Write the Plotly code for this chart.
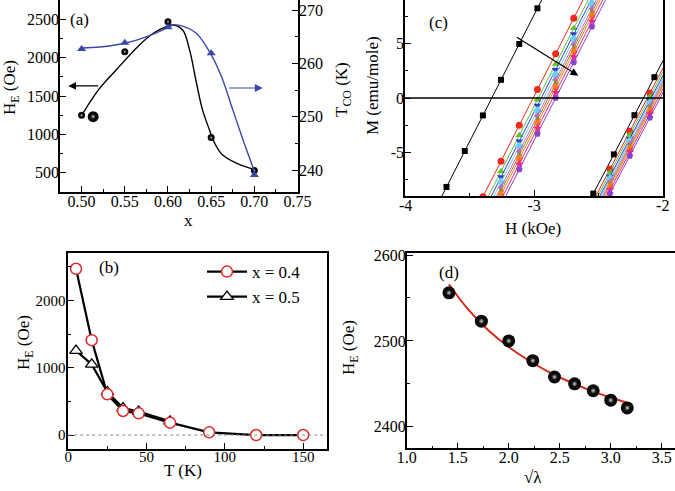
import plotly.graph_objects as go

FONT = "Liberation Serif, Times New Roman, serif"

# ---------------- Panel (a) ----------------
x_a = [0.50, 0.55, 0.60, 0.65, 0.70]
HE_a = [1250, 2080, 2470, 960, 530]
TCO_a = [262.7, 263.9, 266.8, 261.9, 239.1]
# guide curves
x_a_curveHE = [0.500, 0.521, 0.540, 0.567, 0.583, 0.598, 0.606, 0.617, 0.625, 0.633,
               0.640, 0.648, 0.654, 0.663, 0.679, 0.698, 0.700]
HE_a_curve = [1250, 1604, 1842, 2168, 2320, 2406, 2428, 2363, 2103, 1669,
              1321, 1060, 887, 735, 626, 548, 540]
x_a_curveT = [0.500, 0.521, 0.550, 0.575, 0.598, 0.606, 0.617, 0.633, 0.648, 0.662,
              0.675, 0.687, 0.698, 0.700]
TCO_a_curve = [262.9, 263.1, 263.8, 265.0, 266.6, 267.2, 267.0, 265.6, 262.2, 257.5,
               251.3, 245.6, 240.6, 239.5]
big_sphere_x = [0.5134]
big_sphere_y = [1233]

# ---------------- Panel (b) ----------------
T_b04 = [5, 15, 25, 35, 45, 65, 90, 120, 150]
HE_b04 = [2470, 1410, 605, 357, 322, 184, 40, 0, 0]
T_b05 = [5, 15, 25, 35, 45, 65]
HE_b05 = [1255, 1050, 640, 400, 350, 205]

# ---------------- Panel (c) ----------------
H_left_black = [-3.823, -3.682, -3.540, -3.399, -3.258, -3.116, -2.975, -2.833]
M_left_black = [-11.44, -8.17, -4.87, -1.60, 1.67, 4.96, 8.24, 11.53]
H_right_black = [-2.700, -2.540, -2.380, -2.220, -2.065, -1.910]
M_right_black = [-12.38, -8.78, -5.18, -1.58, 1.91, 5.40]

H_left_col = [-3.399, -3.258, -3.116, -2.975, -2.833, -2.692, -2.551, -2.409]
H_right_col = [-2.565, -2.410, -2.256, -2.100, -1.945]

M_left_red = [-9.07, -5.80, -2.51, 0.77, 4.06, 7.33, 10.60, 13.90]
M_left_green = [-10.00, -6.73, -3.43, -0.16, 3.13, 6.40, 9.67, 12.97]
M_left_blue = [-10.53, -7.26, -3.97, -0.70, 2.60, 5.87, 9.14, 12.44]
M_left_cyan = [-11.00, -7.73, -4.43, -1.16, 2.13, 5.41, 8.68, 11.97]
M_left_magenta = [-11.46, -8.19, -4.90, -1.62, 1.67, 4.94, 8.21, 11.51]
M_left_olive = [-11.81, -8.54, -5.24, -1.97, 1.32, 4.59, 7.86, 11.16]
M_left_orange = [-12.16, -8.89, -5.59, -2.32, 0.97, 4.25, 7.52, 10.81]
M_left_pink = [-12.62, -9.35, -6.06, -2.78, 0.51, 3.78, 7.05, 10.35]
M_left_purple = [-13.13, -9.86, -6.57, -3.29, 0.00, 3.27, 6.54, 9.84]

M_right_red = [-10.01, -6.53, -3.06, 0.45, 3.94]
M_right_green = [-10.35, -6.86, -3.40, 0.11, 3.60]
M_right_blue = [-10.69, -7.20, -3.74, -0.23, 3.26]
M_right_cyan = [-10.91, -7.43, -3.96, -0.45, 3.04]
M_right_magenta = [-11.18, -7.70, -4.23, -0.72, 2.77]
M_right_olive = [-11.41, -7.92, -4.46, -0.95, 2.54]
M_right_orange = [-11.63, -8.15, -4.68, -1.17, 2.32]
M_right_pink = [-11.93, -8.44, -4.97, -1.46, 2.03]
M_right_purple = [-12.26, -8.78, -5.31, -1.80, 1.69]

c_ticks_x = [-4, -3, -2]
c_ticktext_x = ["-4", "-3", "-2"]
c_ticks_y = [-5, 0, 5]
c_ticktext_y = ["-5", "0", "5"]

# ---------------- Panel (d) ----------------
sqrt_lam = [1.414, 1.732, 2.000, 2.236, 2.449, 2.646, 2.828, 3.000, 3.162]
HE_d = [2556, 2523, 2500, 2477, 2458, 2450, 2442, 2431, 2422]
sqrt_lam_fit = [1.414, 1.6, 1.8, 2.0, 2.2, 2.4, 2.6, 2.8, 3.0, 3.162]
HE_d_fit = [2566.0, 2537.0, 2512.5, 2492.9, 2476.9, 2463.5, 2452.2, 2442.5, 2434.1, 2428.0]

BLUE_A = "#3a47a8"

fig = go.Figure()


def spheres(x, y, xa, ya, size):
    fig.add_trace(go.Scatter(x=x, y=y, xaxis=xa, yaxis=ya, mode="markers", showlegend=False,
                             marker=dict(color="#0a0a0a", size=size, line=dict(width=0))))
    fig.add_trace(go.Scatter(x=x, y=y, xaxis=xa, yaxis=ya, mode="markers", showlegend=False,
                             marker=dict(color="#0a0a0a", size=size * 0.45, line=dict(width=0),
                                         gradient=dict(type="radial", color="#d0d0d0"))))


# ---- (a)
fig.add_trace(go.Scatter(x=x_a_curveHE, y=HE_a_curve, xaxis="x", yaxis="y", mode="lines",
                         line=dict(color="black", width=1.4, shape="spline"), showlegend=False))
fig.add_trace(go.Scatter(x=x_a_curveT, y=TCO_a_curve, xaxis="x", yaxis="y2", mode="lines",
                         line=dict(color=BLUE_A, width=1.4, shape="spline"), showlegend=False))
fig.add_trace(go.Scatter(x=x_a, y=TCO_a, xaxis="x", yaxis="y2", mode="markers", showlegend=False,
                         marker=dict(symbol="triangle-up", color=BLUE_A, size=8)))
spheres(x_a, HE_a, "x", "y", 7)
spheres(big_sphere_x, big_sphere_y, "x", "y", 11)

# ---- (c)
fig.add_trace(go.Scatter(x=H_left_black + [None] + H_right_black,
                         y=M_left_black + [None] + M_right_black,
                         xaxis="x2", yaxis="y3", mode="lines+markers", showlegend=False,
                         line=dict(color="black", width=1),
                         marker=dict(symbol="square", color="black", size=6)))
col_series = [
    (M_left_red, M_right_red, "#ee2a1e", "circle"),
    (M_left_green, M_right_green, "#63c132", "triangle-up"),
    (M_left_blue, M_right_blue, "#2f3fc4", "triangle-down"),
    (M_left_cyan, M_right_cyan, "#6ccff0", "diamond"),
    (M_left_magenta, M_right_magenta, "#c264c8", "triangle-left"),
    (M_left_olive, M_right_olive, "#9a8a3a", "triangle-right"),
    (M_left_orange, M_right_orange, "#ff7f10", "hexagon"),
    (M_left_pink, M_right_pink, "#ee2288", "star"),
    (M_left_purple, M_right_purple, "#8844cc", "pentagon"),
]
for ml, mr, col, sym in col_series:
    fig.add_trace(go.Scatter(x=H_left_col + [None] + H_right_col, y=ml + [None] + mr,
                             xaxis="x2", yaxis="y3", mode="lines+markers", showlegend=False,
                             line=dict(color=col, width=1),
                             marker=dict(symbol=sym, color=col, size=7)))

# ---- (b)
fig.add_trace(go.Scatter(x=T_b05, y=HE_b05, xaxis="x3", yaxis="y4", mode="lines+markers",
                         name="x = 0.5", legendrank=2,
                         line=dict(color="black", width=2.2),
                         marker=dict(symbol="triangle-up", color="white", size=11,
                                     line=dict(color="black", width=1.3))))
fig.add_trace(go.Scatter(x=T_b04, y=HE_b04, xaxis="x3", yaxis="y4", mode="lines+markers",
                         name="x = 0.4", legendrank=1,
                         line=dict(color="black", width=2.2),
                         marker=dict(symbol="circle", color="white", size=11,
                                     line=dict(color="#e0282a", width=1.5))))

# ---- (d)
fig.add_trace(go.Scatter(x=sqrt_lam_fit, y=HE_d_fit, xaxis="x4", yaxis="y5", mode="lines",
                         line=dict(color="#d42a1a", width=2, shape="spline"), showlegend=False))
spheres(sqrt_lam, HE_d, "x4", "y5", 13)


def ax(**kw):
    base = dict(showline=True, linecolor="black", linewidth=1.6, mirror=True,
                ticks="inside", ticklen=6, tickwidth=1.2, tickcolor="black",
                showgrid=False, zeroline=False, automargin=False,
                tickfont=dict(family=FONT, size=16, color="black"),
                minor=dict(ticks="inside", ticklen=3, tickcolor="black", tickwidth=1))
    base.update(kw)
    return base


W, H = 675, 491
px = lambda v: v / W
py = lambda v: 1 - v / H
XS, YS = -6, -4

fig.update_layout(
    template="none",
    width=W, height=H, margin=dict(l=0, r=0, t=0, b=0, pad=0, autoexpand=False),
    paper_bgcolor="white", plot_bgcolor="white",
    font=dict(family=FONT, color="black"),
    xaxis=ax(domain=[px(60), px(298)], range=[0.475, 0.7505], anchor="y", ticklabelstandoff=XS,
             dtick=0.05, tick0=0, tickformat=".2f", minor=dict(ticks="inside", ticklen=3, dtick=0.025, tickcolor="black")),
    yaxis=ax(domain=[py(192), 1], range=[250, 2754], anchor="x", dtick=500, tick0=0, ticklabelstandoff=YS,
             minor=dict(ticks="inside", ticklen=3, dtick=250, tickcolor="black")),
    yaxis2=ax(overlaying="y", side="right", anchor="x", range=[235.9, 271.9], dtick=10, tick0=0,
              ticklabelstandoff=YS,
              mirror=False, minor=dict(ticks="inside", ticklen=3, dtick=5, tickcolor="black")),
    xaxis2=ax(domain=[px(405), px(663)], range=[-4.005, -1.998], anchor="y3", ticklabelstandoff=XS,
              tickvals=c_ticks_x, ticktext=c_ticktext_x,
              minor=dict(ticks="inside", ticklen=3, dtick=0.5, tick0=0, tickcolor="black")),
    yaxis3=ax(domain=[py(196), 1], range=[-9, 9], anchor="x2", ticklabelstandoff=YS,
              tickvals=c_ticks_y, ticktext=c_ticktext_y,
              minor=dict(ticks="inside", ticklen=3, dtick=2.5, tick0=0, tickcolor="black")),
    xaxis3=ax(domain=[px(68.2), px(326.7)], range=[0, 165], anchor="y4", dtick=50, tick0=0,
              ticklabelstandoff=XS,
              tickfont=dict(family=FONT, size=15, color="black"),
              minor=dict(ticks="inside", ticklen=3, dtick=25, tickcolor="black")),
    yaxis4=ax(domain=[py(448.5), py(253.3)], range=[-200, 2700], anchor="x3", dtick=1000, tick0=0,
              ticklabelstandoff=-2,
              tickfont=dict(family=FONT, size=15, color="black"),
              minor=dict(ticks="inside", ticklen=3, dtick=500, tickcolor="black")),
    xaxis4=ax(domain=[px(406.7), 1], range=[1.0, 3.63], anchor="y5", dtick=0.5, tick0=0,
              ticklabelstandoff=XS,
              tickformat=".1f", minor=dict(ticks="inside", ticklen=3, dtick=0.25, tickcolor="black")),
    yaxis5=ax(domain=[py(448.3), py(253.3)], range=[2375, 2602], anchor="x4", dtick=100, tick0=0,
              ticklabelstandoff=YS,
              minor=dict(ticks="inside", ticklen=3, dtick=50, tickcolor="black")),
    legend=dict(x=px(202), y=py(254), xanchor="left", yanchor="top",
                bgcolor="rgba(0,0,0,0)", font=dict(family=FONT, size=17, color="black"),
                itemwidth=40, tracegroupgap=0, borderwidth=0),
)

shapes = [
    dict(type="line", xref="x3 domain", yref="y4", x0=0, x1=1, y0=0, y1=0,
         line=dict(color="#888888", width=1, dash="dot")),
    dict(type="line", xref="x2 domain", yref="y3", x0=0, x1=1, y0=0, y1=0,
         line=dict(color="black", width=1.5)),
]
fig.update_layout(shapes=shapes)

TF = dict(family=FONT, size=17, color="black")
LF = dict(family=FONT, size=17, color="black")
annos = [
    dict(text="H<sub>E</sub> (Oe)", x=px(11), y=py(88), textangle=-90, font=TF),
    dict(text="T<sub>CO</sub> (K)", x=px(343), y=py(90), textangle=-90, font=TF),
    dict(text="x", x=px(188), y=py(221), font=TF),
    dict(text="M (emu/mole)", x=px(372), y=py(86), textangle=-90, font=TF),
    dict(text="H (kOe)", x=px(533), y=py(229), font=TF),
    dict(text="H<sub>E</sub> (Oe)", x=px(25), y=py(343), textangle=-90, font=TF),
    dict(text="T (K)", x=px(183), y=py(470), font=TF),
    dict(text="H<sub>E</sub> (Oe)", x=px(350), y=py(348), textangle=-90, font=TF),
    dict(text="\u221a\u03bb", x=px(533), y=py(477), font=TF),
    dict(text="(a)", x=px(79), y=py(20), font=LF),
    dict(text="(b)", x=px(109), y=py(267), font=LF),
    dict(text="(c)", x=px(438), y=py(22), font=LF),
    dict(text="(d)", x=px(449), y=py(272), font=LF),
]
for a in annos:
    a.update(xref="paper", yref="paper", showarrow=False, xanchor="center", yanchor="middle")

arrows = [
    dict(x=0.4846, y=1634, ax=0.521, ay=1634, xref="x", yref="y", axref="x", ayref="y",
         arrowcolor="black"),
    dict(x=0.7096, y=255.4, ax=0.669, ay=255.4, xref="x", yref="y2", axref="x", ayref="y2",
         arrowcolor=BLUE_A),
    dict(x=-2.657, y=2.05, ax=-3.147, ay=5.67, xref="x2", yref="y3", axref="x2", ayref="y3",
         arrowcolor="black"),
]
for a in arrows:
    a.update(text="", showarrow=True, arrowhead=2, arrowsize=1.3, arrowwidth=1.2)

fig.update_layout(annotations=annos + arrows)

fig.write_html(
    "out.html",
    config={"displayModeBar": False},
    post_script="document.body.style.margin='0';document.body.style.padding='0';"
                "document.body.style.overflow='hidden';",
)
